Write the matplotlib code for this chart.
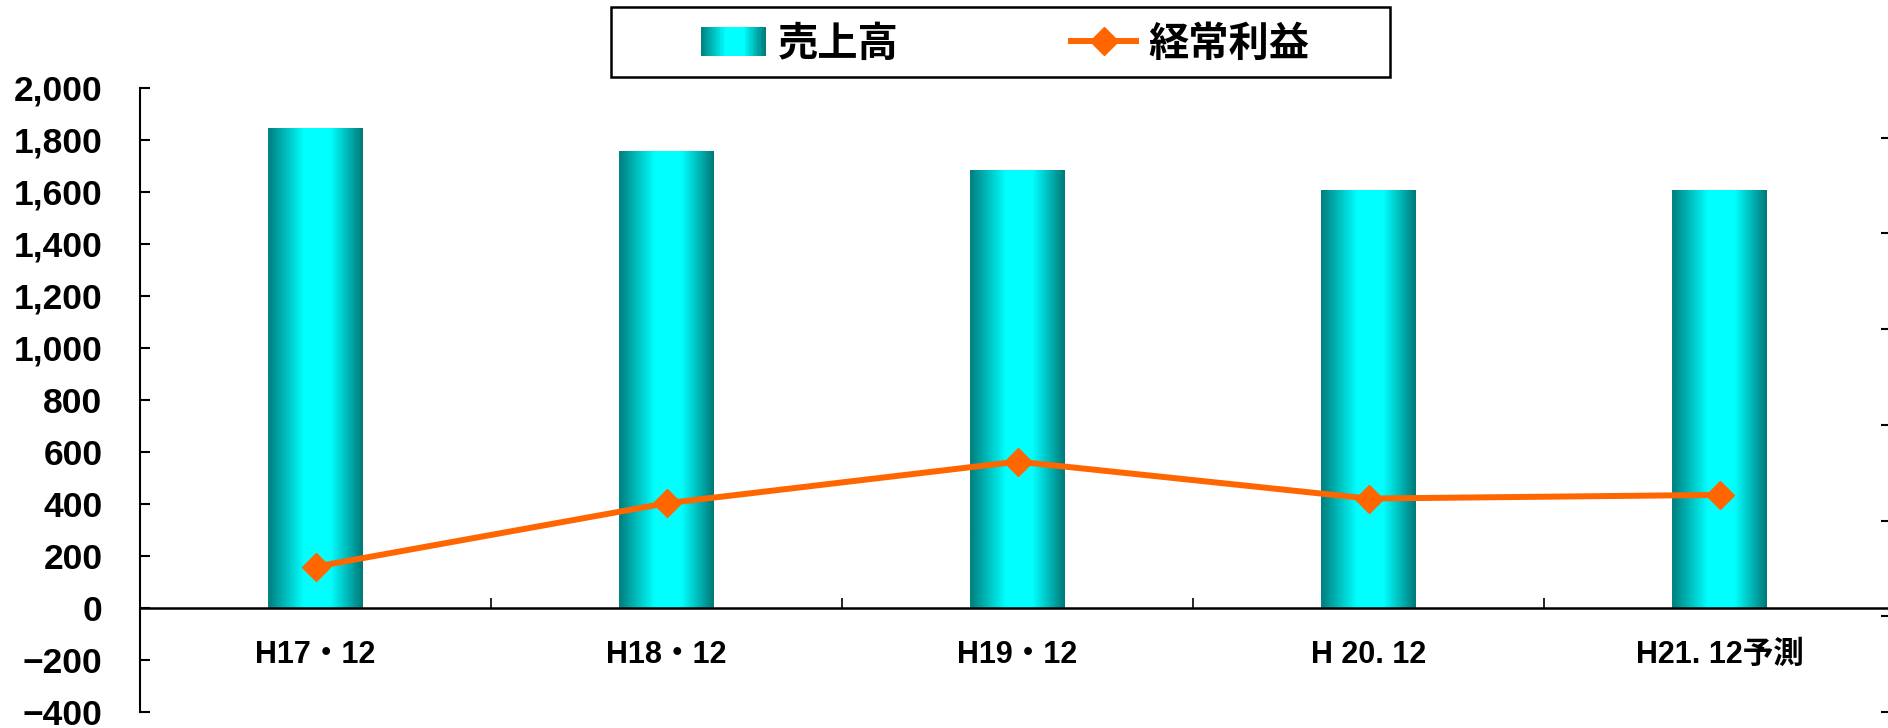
import numpy as np
import matplotlib
matplotlib.use("Agg")
import matplotlib.pyplot as plt
from matplotlib.patches import Rectangle
from matplotlib.lines import Line2D
from matplotlib.legend_handler import HandlerBase
from matplotlib.font_manager import FontProperties

plt.rcParams['font.family'] = ['Liberation Sans', 'Noto Sans CJK JP', 'DejaVu Sans']

# data
categories = ['H17・12', 'H18・12', 'H19・12', 'H 20. 12', 'H21. 12予測']
sales = [1845, 1755, 1681, 1607, 1607]
profit = [159, 403, 563, 421, 435]
yticks = [-400, -200, 0, 200, 400, 600, 800, 1000, 1200, 1400, 1600, 1800, 2000]

teal_l = np.array([0, 132, 132]) / 255
teal_r = np.array([0, 112, 112]) / 255
cyan = np.array([0, 255, 255]) / 255
orange = '#FF6600'


def grad_color(t):
    f = np.clip((0.5 - abs(t - 0.52)) / 0.36, 0, 1)
    edge = teal_l if t < 0.52 else teal_r
    return edge + (cyan - edge) * f


class GradHandler(HandlerBase):
    def create_artists(self, legend, orig_handle, xdescent, ydescent,
                       width, height, fontsize, trans):
        n = 40
        arts = []
        for i in range(n):
            t = (i + 0.5) / n
            arts.append(Rectangle((-xdescent + i * width / n, -ydescent),
                                  width / n * 1.05, height,
                                  facecolor=grad_color(t), edgecolor='none',
                                  transform=trans))
        return arts


fig = plt.figure(figsize=(18.88, 7.28), dpi=100)
ax = fig.add_axes([140 / 1888, 16 / 728, 1755 / 1888, 624 / 728])

x = np.arange(len(categories))
bw = 0.27
bars = ax.bar(x, sales, width=bw, color='none', edgecolor='none', zorder=2)

grad = np.array([[grad_color(t) for t in np.linspace(0, 1, 200)]])
for b in bars:
    x0 = b.get_x()
    ax.imshow(grad, extent=[x0, x0 + b.get_width(), 0, b.get_height()],
              aspect='auto', interpolation='bilinear', zorder=2)

ax.plot(x, profit, color=orange, lw=4.3, marker='D', markersize=14,
        markeredgecolor=orange, markerfacecolor=orange, zorder=4)

ax.set_xlim(-0.5, len(categories) - 0.5)
ax.set_ylim(-400, 2000)

ax.spines['bottom'].set_position(('data', 0))
ax.spines['bottom'].set_linewidth(1.8)
ax.spines['left'].set_linewidth(1.5)
ax.spines['top'].set_visible(False)
ax.spines['right'].set_visible(False)

tw = ax.twinx()
tw.set_ylim(0, 6.52)
tw.set_yticks(range(7))
tw.tick_params(axis='y', direction='in', length=10, width=1.5, labelright=False)
for s in tw.spines.values():
    s.set_visible(False)

ax.tick_params(axis='y', direction='in', length=7, width=1.5, pad=27)
ax.set_xticks(x[:-1] + 0.5, minor=True)
ax.tick_params(axis='x', which='minor', direction='in', length=7, width=1.2)
ax.set_xticks(x, categories)
ax.tick_params(axis='x', which='major', length=0, pad=23, labelsize=22)
ax.set_yticks(yticks, [f'{v:,}'.replace('-', '\u2212') for v in yticks])
ax.tick_params(axis='y', labelsize=25.5)

fp_x = FontProperties(family=['Liberation Sans', 'Noto Sans CJK JP', 'DejaVu Sans'],
                      weight='bold', size=22)
fp_y = FontProperties(family=['Liberation Sans', 'DejaVu Sans'], weight='bold', size=25.5)
for lab in ax.get_xticklabels():
    lab.set_fontproperties(fp_x)
for lab in ax.get_yticklabels():
    lab.set_fontproperties(fp_y)

# legend
fig.patches.append(Rectangle((611 / 1888, 1 - 77 / 728), 779 / 1888, 70 / 728,
                             transform=fig.transFigure, facecolor='white',
                             edgecolor='black', lw=1.8, zorder=0))
h_bar = Rectangle((0, 0), 1, 1)
h_line = Line2D([], [], color=orange, lw=4.3, marker='D', markersize=14)
fig.legend([h_bar, h_line], ['売上高', '経常利益'],
           handler_map={Rectangle: GradHandler()},
           loc='center', bbox_to_anchor=(1005 / 1888, 1 - 44 / 728),
           ncol=2, frameon=False, handlelength=1.6, handletextpad=0.3,
           columnspacing=4.3,
           prop={'family': ['Noto Sans CJK JP'], 'weight': 'bold', 'size': 29})

fig.savefig('out.png', dpi=100)
